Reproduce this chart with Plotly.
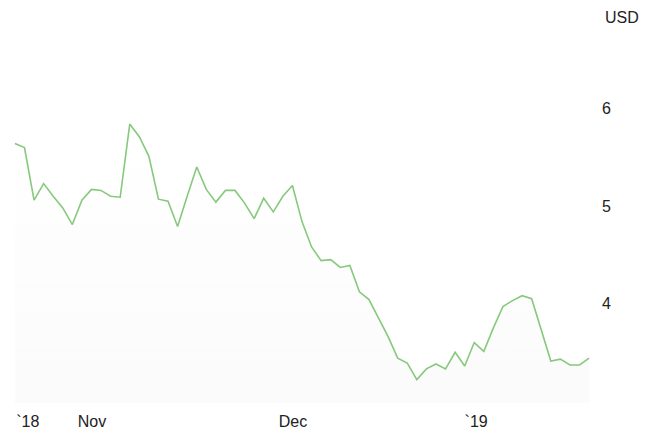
import plotly.graph_objects as go

# Price series (USD), one value per trading session
prices = [5.64, 5.60, 5.06, 5.23, 5.10, 4.98, 4.81, 5.06, 5.17, 5.16,
          5.10, 5.09, 5.84, 5.71, 5.51, 5.07, 5.05, 4.79, 5.10, 5.40,
          5.17, 5.04, 5.16, 5.16, 5.03, 4.87, 5.08, 4.94, 5.10, 5.21,
          4.84, 4.58, 4.44, 4.45, 4.37, 4.39, 4.12, 4.04, 3.85, 3.66,
          3.44, 3.39, 3.22, 3.33, 3.38, 3.33, 3.50, 3.36, 3.60, 3.51,
          3.75, 3.97, 4.03, 4.08, 4.05, 3.73, 3.41, 3.43, 3.37, 3.37,
          3.44]
sessions = list(range(len(prices)))

x_tick_positions = [1.35, 8.05, 29.05, 48.2]
x_tick_labels = ["`18", "Nov", "Dec", "`19"]
y_tick_values = [4, 5, 6]
unit_label = "USD"

font_family = "Liberation Sans, Arial, sans-serif"
text_color = "#222222"

# page body has an 8px default margin, so the plot area is placed 8px up/left
ml, mr, mt, mb = 5, 69, 2, 35
plot_w = 652 - ml - mr
plot_h = 430 - mt - mb

fig = go.Figure()
fig.add_trace(go.Scatter(
    x=sessions, y=prices, mode="lines",
    line=dict(color="#86c97c", width=1.6),
    fill="tozeroy",
    fillgradient=dict(type="vertical",
                      colorscale=[[0, "rgba(0,0,0,0.035)"], [1, "rgba(0,0,0,0.0)"]]),
    hoverinfo="skip",
))

fig.update_layout(
    width=652, height=430,
    margin=dict(l=ml, r=mr, t=mt, b=mb),
    paper_bgcolor="white", plot_bgcolor="white",
    showlegend=False,
    font=dict(family=font_family, size=16, color=text_color),
    xaxis=dict(range=[-0.2, 60.2], showgrid=False, zeroline=False, showline=False,
               tickmode="array", tickvals=x_tick_positions, ticktext=x_tick_labels,
               ticks="", ticklabelstandoff=7, fixedrange=True),
    yaxis=dict(range=[2.98, 7.01], side="right", showgrid=False, zeroline=False,
               showline=False, tickmode="array", tickvals=y_tick_values,
               ticks="", ticklabelstandoff=10, fixedrange=True),
    annotations=[dict(text=unit_label, xref="paper", yref="paper",
                      x=(595 - ml) / plot_w, y=(430 - mb - 10) / plot_h,
                      xanchor="left", yanchor="middle", showarrow=False,
                      font=dict(family=font_family, size=16, color=text_color))],
)

fig.write_html("out.html")
